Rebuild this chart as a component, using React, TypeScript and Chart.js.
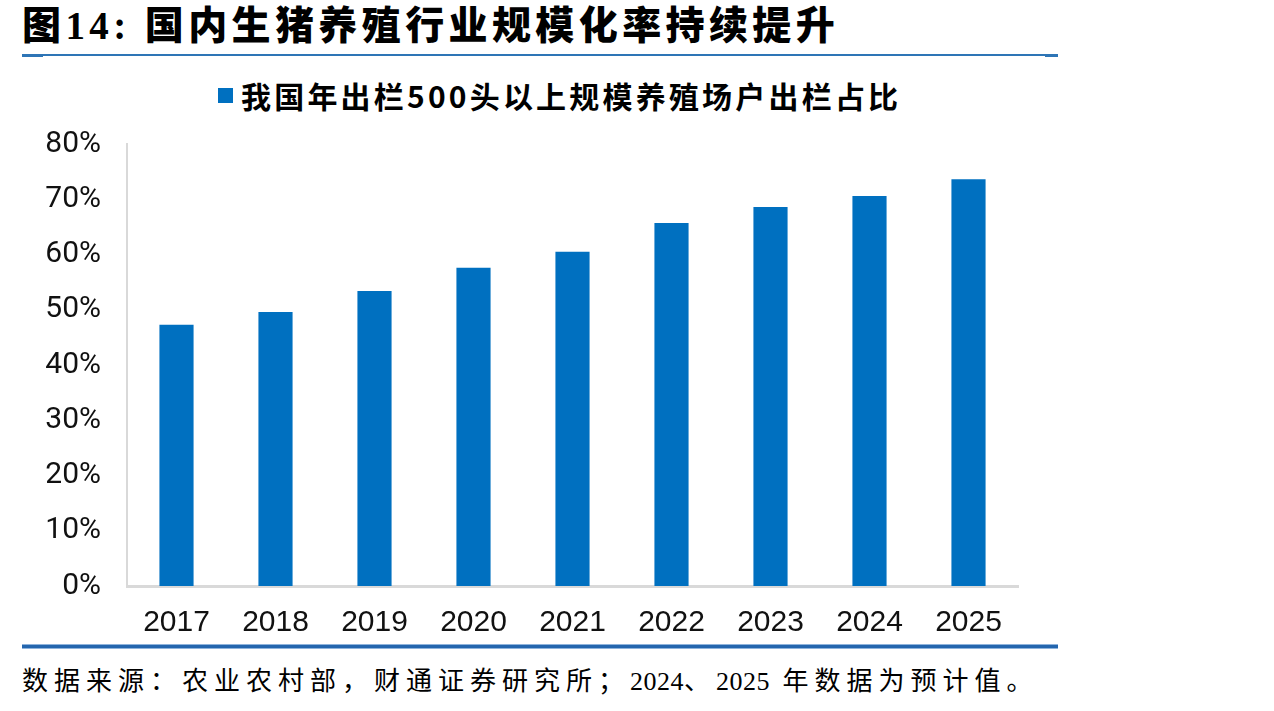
import React, { useEffect, useRef } from "react";
import { Chart, registerables } from "chart.js";

Chart.register(...registerables);

// 出栏500头以上规模养殖场户出栏占比（%）
const years = ["2017", "2018", "2019", "2020", "2021", "2022", "2023", "2024", "2025"];
const scaleShare = [47.3, 49.6, 53.4, 57.6, 60.5, 65.7, 68.6, 70.6, 73.6];
const yMin = 0;
const yMax = 80;
const yStep = 10;

const seriesName = "我国年出栏500头以上规模养殖场户出栏占比";
const titleText = "图14: 国内生猪养殖行业规模化率持续提升";
const sourceText = "数据来源：农业农村部，财通证券研究所；2024、2025 年数据为预计值。";

const BAR_BLUE = "#0070C0";
const AXIS_GREY = "#D9D9D9";

// digits in the source note keep tight spacing, the CJK text is spread out
function renderSource(text: string) {
  return text.split(/(\d+)/).map((part, i) =>
    /^\d+$/.test(part) ? (
      <span key={i} style={{ letterSpacing: 0.5 }}>
        {part}
      </span>
    ) : (
      <span key={i}>{part}</span>
    )
  );
}

export default function App() {
  const canvasRef = useRef<HTMLCanvasElement | null>(null);

  useEffect(() => {
    if (!canvasRef.current) return;
    const chart = new Chart(canvasRef.current, {
      type: "bar",
      data: {
        labels: years,
        datasets: [
          {
            label: seriesName,
            data: scaleShare,
            backgroundColor: BAR_BLUE,
            borderWidth: 0,
            categoryPercentage: 1,
            barPercentage: 0.345,
          },
        ],
      },
      options: {
        animation: false,
        responsive: false,
        maintainAspectRatio: false,
        layout: { padding: { top: 0, right: 22, left: 0, bottom: 0 } },
        plugins: {
          legend: { display: false },
          tooltip: { enabled: false },
          title: { display: false },
        },
        scales: {
          x: {
            grid: { display: false, drawTicks: false },
            border: { display: true, color: AXIS_GREY, width: 3 },
            ticks: {
              color: "#111",
              padding: 19,
              font: { family: "'Liberation Sans', Arial, sans-serif", size: 30 },
            },
            afterFit: (scale: any) => {
              scale.height = 64;
            },
          },
          y: {
            min: yMin,
            max: yMax,
            grid: { display: false, drawTicks: false },
            border: { display: true, color: AXIS_GREY, width: 2 },
            ticks: {
              stepSize: yStep,
              color: "#111",
              padding: 26,
              font: { family: "Roboto, 'Liberation Sans', sans-serif", size: 30 },
              callback: (v: any) => `${v}%`,
            },
            afterFit: (scale: any) => {
              scale.width = 127;
            },
          },
        },
      },
    });
    return () => chart.destroy();
  }, []);

  return (
    <div
      style={{
        position: "fixed",
        left: 0,
        top: 0,
        width: 1274,
        height: 711,
        background: "#fff",
        overflow: "hidden",
      }}
    >
      <div
        style={{
          position: "absolute",
          left: 22,
          top: 2,
          fontFamily: "'Liberation Serif', 'Noto Sans CJK SC', serif",
          fontWeight: 900,
          fontSize: 39,
          letterSpacing: 4.4,
          lineHeight: "48px",
          whiteSpace: "nowrap",
          color: "#000",
        }}
      >
        {titleText}
      </div>
      <div style={{ position: "absolute", left: 22, top: 54, width: 1036, height: 2, background: "#2E75B6" }} />
      <div style={{ position: "absolute", left: 22, top: 55, width: 21, height: 2, background: "#2E75B6" }} />
      <div style={{ position: "absolute", left: 1045, top: 55, width: 13, height: 2, background: "#2E75B6" }} />

      <div
        style={{
          position: "absolute",
          left: 218,
          top: 75,
          display: "flex",
          alignItems: "center",
          whiteSpace: "nowrap",
        }}
      >
        <span style={{ display: "inline-block", width: 15, height: 15, background: BAR_BLUE, marginRight: 8 }} />
        <span
          style={{
            fontFamily: "'Noto Sans CJK SC', sans-serif",
            fontWeight: 700,
            fontSize: 30,
            letterSpacing: 3.2,
            lineHeight: "40px",
            color: "#000",
          }}
        >
          {seriesName}
        </span>
      </div>

      <canvas
        ref={canvasRef}
        width={1040}
        height={550}
        style={{ position: "absolute", left: 0, top: 100, width: 1040, height: 550 }}
      />

      <div style={{ position: "absolute", left: 22, top: 644, width: 1036, height: 1, background: "#8EB3DC" }} />
      <div style={{ position: "absolute", left: 22, top: 645, width: 1036, height: 3, background: "#2466AE" }} />
      <div style={{ position: "absolute", left: 22, top: 648, width: 1036, height: 1, background: "#8EB3DC" }} />

      <div
        style={{
          position: "absolute",
          left: 22,
          top: 664,
          fontFamily: "'Liberation Serif', 'Noto Sans CJK SC', serif",
          fontSize: 26,
          letterSpacing: 6,
          lineHeight: "36px",
          whiteSpace: "nowrap",
          color: "#000",
        }}
      >
        {renderSource(sourceText)}
      </div>
    </div>
  );
}
